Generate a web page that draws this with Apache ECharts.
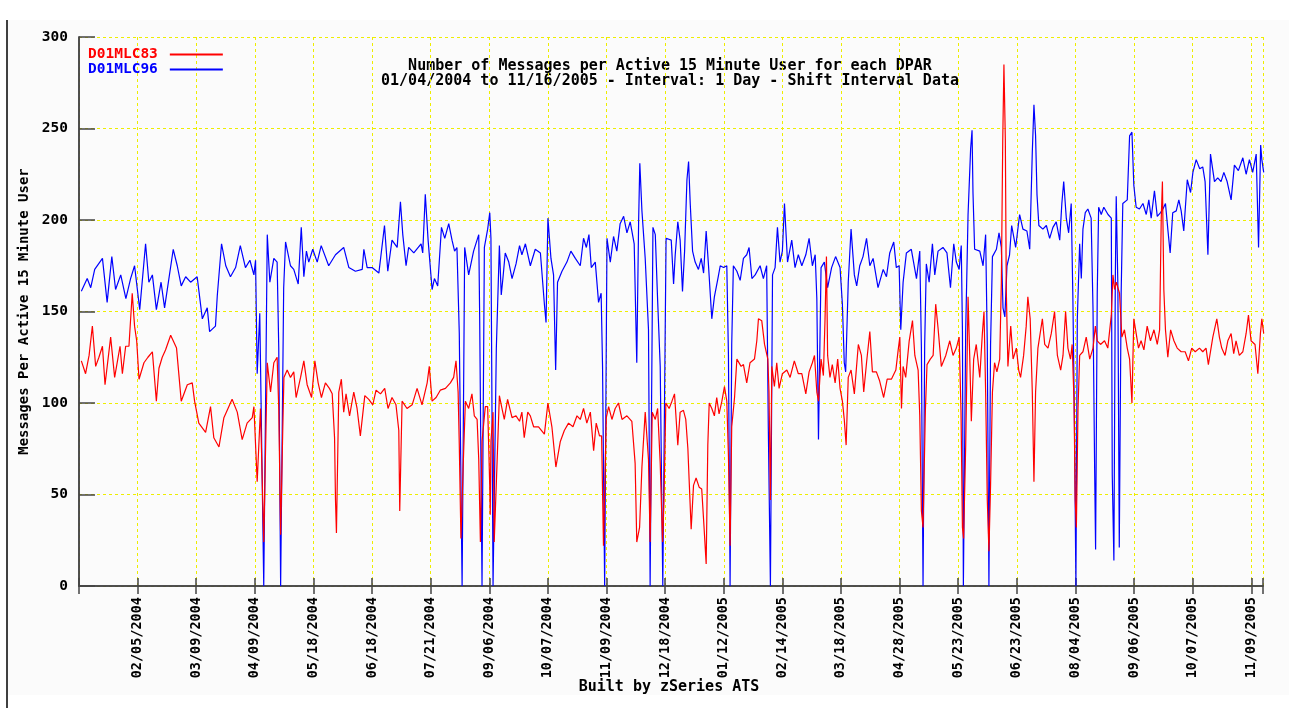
<!DOCTYPE html>
<html>
<head>
<meta charset="utf-8">
<title>Messages per Active 15 Minute User</title>
<script src="https://cdn.jsdelivr.net/npm/echarts@6/dist/echarts.min.js"></script>
<style>
  html, body { margin: 0; padding: 0; background: #fff; }
  #chart { width: 1289px; height: 708px; }
</style>
</head>
<body>
<div id="chart"></div>
<script>
// x = day index (category count from the first day), y = messages per user
const tickLabels = ['02/05/2004', '03/09/2004', '04/09/2004', '05/18/2004', '06/18/2004',
  '07/21/2004', '09/06/2004', '10/07/2004', '11/09/2004', '12/18/2004', '01/12/2005',
  '02/14/2005', '03/18/2005', '04/28/2005', '05/23/2005', '06/23/2005', '08/04/2005',
  '09/06/2005', '10/07/2005', '11/09/2005'];
const yTicks = [0, 50, 100, 150, 200, 250, 300];

// D01MLC83
const redPoints = [
  [1,123],[2.8,116],[4.3,126],[5.7,142],[7.1,120],[8.5,125],[10,131],[11.1,110],[13.5,136],[15.2,114],
  [17.5,131],[18.5,116],[19.9,131],[21.3,131],[22.7,160],[23.7,142],[24.6,134],[25.6,113],[27.7,122],[29.4,125],
  [31.3,128],[33,101],[34.1,119],[35.5,125],[36.9,129],[39.1,137],[41.6,130],[43.6,101],[46.2,110],[48.3,111],
  [49.3,101],[51.1,89],[54,84],[56.1,98],[57.5,81],[59.7,76],[61.8,92],[65.3,102],[67.5,95],[69.6,80],
  [71.7,89],[73.9,92],[74.6,98],[76,57],[77.4,97],[78.8,24],[80.3,122],[81.7,106],[83.1,122],[84.5,125],
  [85.2,97],[86,28],[86.9,85],[87.4,114],[88.8,118],[90.2,114],[91.6,117],[92.6,103],[94.5,114],[95.9,123],
  [97.3,110],[99.2,103],[100.6,123],[102,111],[103.4,103],[105.1,111],[106.8,108],[108,105],[109,81],[109.4,47],
  [109.8,29],[110.8,106],[111.9,113],[112.9,95],[113.9,105],[115.4,93],[117.2,106],[118.6,97],[120,82],[121.9,104],
  [123.6,102],[125.3,99],[126.7,107],[128.6,105],[130.4,108],[131.8,97],[133.5,103],[135.2,99],[136.4,85],[136.8,41],
  [137.8,101],[139.9,97],[142.1,99],[144.2,108],[146.3,99],[148.5,111],[149.4,120],[150.6,101],[152.3,103],[154.1,107],
  [156.3,108],[158.4,111],[159.8,114],[160.8,123],[161.7,106],[162.2,77],[162.9,26],[164.1,75],[164.8,101],[166.2,97],
  [167.6,105],[168.6,93],[169.8,91],[170.5,69],[171.2,24],[171.9,79],[173.3,98],[174.3,98],[175.2,54],[175.4,39],
  [175.7,79],[176.6,95],[177.1,24],[178.3,67],[179.3,104],[180.4,97],[181.4,91],[182.8,102],[184.7,92],[186.4,93],
  [187.9,90],[188.9,95],[189.9,81],[191.4,95],[192.5,93],[193.9,87],[196,87],[198.5,83],[200,100],[201.7,87],
  [203.4,65],[205.3,79],[207,85],[208.8,89],[210.7,87],[212.4,93],[213.8,91],[215.2,97],[216.6,89],[218.1,95],
  [219.5,74],[220.6,89],[222,82],[222.9,82],[223.7,22],[224.9,92],[225.9,98],[227.3,91],[228.7,97],[230.1,100],
  [231.6,91],[233.7,93],[235.8,90],[237.2,67],[237.9,24],[239.1,32],[240.1,65],[241.5,95],[242.9,69],[243.6,24],
  [244.5,95],[245.8,91],[246.8,97],[247.9,67],[248.9,24],[249.5,47],[250.3,100],[251.7,97],[252.9,101],[254,105],
  [254.6,93],[255.4,77],[256.4,95],[257.8,96],[258.8,91],[259.7,75],[260.2,59],[261.1,31],[262.1,55],[263.2,59],
  [264.5,54],[265.6,53],[266.6,32],[267.5,12],[268.2,77],[268.8,100],[269.9,97],[271,93],[272,103],[273,94],
  [274.2,101],[275.3,109],[276.3,101],[277,71],[277.7,22],[278.4,87],[279.6,103],[280.6,124],[282.4,120],[283.4,121],
  [284.8,111],[286.2,122],[288.1,124],[289.1,134],[289.8,146],[291.2,145],[292.4,132],[293.8,124],[294.3,106],[294.9,47],
  [295.5,120],[296.6,109],[297.6,122],[298.6,108],[300,116],[301.9,118],[303.3,114],[305.1,123],[306.8,116],[308.3,116],
  [310,105],[311.4,117],[312.8,122],[313.7,126],[314.7,106],[315.4,101],[316.5,124],[317.5,115],[318.2,146],[318.8,180],
  [319.3,126],[320.3,114],[321.3,121],[322.5,111],[323.6,124],[324.6,108],[325.6,101],[326.4,91],[327.2,77],[328.1,114],
  [329.3,118],[330.7,105],[332.4,132],[333.7,126],[334.7,106],[335.9,122],[337.3,139],[338.4,117],[340.1,117],[341.5,112],
  [343.2,103],[344.7,113],[346.5,113],[348.4,118],[349.4,129],[350.1,136],[350.8,97],[351.5,120],[352.6,114],[354.1,134],
  [355.5,145],[356.5,126],[357.9,118],[358.6,93],[359.3,41],[360,32],[361,96],[361.7,121],[363.1,124],[364.3,126],
  [365.4,154],[366.4,141],[367.8,120],[369.7,126],[371.4,134],[372.8,126],[374.2,130],[375.4,136],[376.2,95],[376.8,32],
  [377.3,26],[378.2,77],[379.2,158],[379.9,126],[380.6,90],[381.6,124],[382.7,132],[384.2,114],[385.3,138],[386,150],
  [386.7,106],[387.4,47],[388.1,19],[388.8,55],[389.6,106],[390.5,122],[391.5,117],[392.7,124],[393.4,166],[394,244],
  [394.5,285],[395.1,244],[395.5,162],[396.2,120],[397.4,142],[398.4,124],[399.8,130],[400.8,118],[401.6,114],[402.9,126],
  [404,142],[404.7,158],[405.7,146],[406.6,106],[407.3,57],[408,106],[409,130],[410.9,146],[411.9,132],[413.3,130],
  [414.7,138],[416.1,150],[417.3,126],[418.7,118],[419.7,126],[420.8,150],[421.8,130],[422.9,124],[423.6,132],[424.4,101],
  [424.9,47],[425.4,32],[426.1,97],[426.8,126],[428.2,128],[429.6,136],[431.1,124],[432.5,130],[433.5,142],[434.3,134],
  [435.7,132],[437.4,134],[438.8,130],[440.3,148],[441,170],[441.7,162],[442.4,166],[443.8,160],[444.8,136],[445.9,140],
  [447.1,130],[448.1,124],[449.1,100],[449.9,146],[450.9,138],[451.9,130],[453,134],[454.2,129],[455.6,142],[457,134],
  [458.5,140],[459.9,132],[460.9,140],[461.6,201],[462.1,221],[462.7,162],[463.4,140],[464.4,125],[465.6,140],[467,134],
  [468.4,130],[470.1,128],[471.8,128],[473.2,123],[474.6,130],[476.1,128],[477.9,130],[479.3,128],[480.7,130],[481.7,121],
  [483.6,136],[485.3,146],[486.4,136],[487.4,130],[488.8,126],[490,134],[491.4,138],[492.5,127],[493.5,134],[494.9,126],
  [496.4,128],[497.8,138],[498.8,148],[499.9,134],[501.6,132],[502.8,116],[503.9,138],[504.5,146],[505.3,138]
];

// D01MLC96
const bluePoints = [
  [1,161],[3.5,168],[5,163],[6.7,173],[10,179],[12,155],[14,180],[15.6,162],[17.8,170],[20,157],
  [22,168],[23.7,175],[25.9,151],[28.4,187],[29.8,166],[31.3,170],[33,151],[35,166],[36.5,152],[40.2,184],
  [41.9,175],[43.6,164],[45.5,169],[47.6,166],[50.4,169],[52.6,146],[54.7,152],[55.7,139],[58.2,142],[59,159],
  [60.8,187],[62.6,175],[64.6,169],[66.8,174],[68.8,186],[71,174],[72.9,178],[74.6,170],[75.3,178],[76,116],
  [77.1,149],[78.8,0],[80.3,192],[81.4,166],[83.1,179],[84.5,177],[85.2,130],[86,0],[87.3,163],[88.1,188],
  [90.2,175],[91.6,173],[93.5,165],[94.8,196],[95.9,169],[97,183],[98,177],[99.7,184],[101.6,177],[103.3,186],
  [106.5,175],[109.4,181],[112.9,185],[115.1,174],[117.9,172],[120.8,173],[121.5,184],[122.9,174],[125,174],[127.9,171],
  [130.3,197],[131.7,172],[133.5,189],[135.7,185],[137.1,210],[138.1,192],[139.5,175],[140.6,185],[142.8,182],[145.9,187],
  [146.6,182],[147.7,214],[148.9,189],[150.6,162],[151.6,168],[153,164],[154.6,196],[156,190],[157.7,198],[159.1,189],
  [160.2,183],[161.2,185],[162.2,138],[163.4,0],[164.5,185],[166.2,170],[168.3,183],[170.5,192],[170.9,146],[171.9,0],
  [172.9,185],[174.3,195],[175.2,204],[175.7,190],[176.6,0],[178,130],[179.3,186],[180.1,159],[180.8,168],[181.8,182],
  [183.3,177],[184.7,168],[186.4,176],[187.9,186],[188.9,181],[190.4,187],[192.5,175],[194.6,184],[196.8,182],[198.5,154],
  [199.2,144],[200,201],[201.3,179],[202.4,170],[203.3,118],[204.1,166],[206,172],[208.1,177],[209.8,183],[211.7,179],
  [213.8,175],[215.2,190],[216.4,185],[217.5,192],[218.5,174],[220.2,177],[221.6,155],[222.7,160],[223.3,120],[224.2,0],
  [225.2,190],[226.6,177],[228,191],[229.4,183],[230.8,198],[232.3,202],[233.7,193],[235.1,199],[236.8,187],[237.9,122],
  [238.7,200],[239.2,231],[240.1,205],[241.5,179],[242.9,140],[243.6,0],[244.8,196],[245.8,192],[246.8,156],[247.9,120],
  [249,0],[250.4,190],[252.6,189],[253.6,165],[254.3,181],[255.4,199],[256.4,189],[257.4,161],[258.3,183],[259.3,222],
  [260,232],[260.7,209],[261.7,183],[262.8,177],[264.2,173],[265.4,179],[266.4,171],[267.5,194],[268.5,175],[269.9,146],
  [271,158],[272.5,168],[273.5,175],[274.9,174],[276.3,175],[277,126],[277.7,0],[278.4,132],[279.1,175],[280.6,172],
  [282,167],[283.4,179],[284.8,181],[285.8,185],[287,168],[288.4,170],[290.5,175],[291.9,168],[293.3,175],[294,87],
  [294.9,0],[295.8,170],[296.9,174],[297.9,196],[299,177],[300,183],[300.9,209],[302.2,177],[304,189],[305.4,174],
  [306.8,181],[308.3,175],[310,181],[311.4,190],[312.8,175],[314,181],[314.7,157],[315.4,80],[316.5,174],[317.9,177],
  [319.3,163],[321,174],[322.7,180],[324.6,174],[325.6,154],[326.4,122],[327,117],[328.1,166],[329.3,195],[330.7,170],
  [331.7,164],[333,175],[334.4,180],[335.9,190],[337.3,175],[338.7,179],[340.8,163],[343,173],[344.4,169],[345.8,182],
  [347.5,188],[348.6,174],[349.8,175],[350.5,140],[351.5,166],[352.9,182],[355,184],[357.2,168],[358.6,183],[359.3,130],
  [360,0],[360.7,132],[361.4,176],[362.6,166],[364,187],[365,170],[366.4,183],[368.5,185],[370.2,182],[371.7,163],
  [373.1,187],[374.2,177],[375.4,173],[376.3,186],[376.8,140],[377.2,0],[378.2,140],[379.2,203],[380.3,239],[380.9,249],
  [381.3,215],[382,184],[384.2,183],[385.6,175],[386.7,192],[387.4,132],[388.1,0],[388.8,132],[389.6,180],[391.3,184],
  [392.4,193],[393.4,185],[394.1,152],[394.9,147],[395.8,175],[396.9,181],[397.8,197],[399.5,185],[401.2,203],[402.6,195],
  [404.3,194],[405.5,184],[406.6,237],[407.3,263],[408,246],[408.6,214],[409.4,197],[411.1,195],[412.6,197],[414,190],
  [415.4,196],[416.8,199],[418.3,189],[419.2,209],[420,221],[421.1,201],[422.1,193],[423.2,209],[423.9,158],[424.6,87],
  [425.2,0],[425.8,146],[426.8,187],[427.5,168],[428.2,195],[429.2,204],[430.3,206],[431.7,201],[432.5,151],[433.2,63],
  [433.6,20],[434.3,160],[434.9,207],[436,203],[437.1,207],[438.9,203],[440.3,201],[440.7,61],[441.4,14],[442,166],
  [442.4,213],[443.1,164],[443.7,21],[444.5,160],[445.2,209],[447.1,211],[448.1,246],[449.1,248],[449.9,219],[450.9,207],
  [452.3,206],[453.8,209],[455.2,203],[456.3,211],[457.3,201],[458.7,216],[459.9,202],[461.3,204],[462.3,206],[463.4,209],
  [464.4,195],[465.4,182],[466.5,204],[468,205],[469.1,211],[470.1,205],[471.2,194],[472.7,222],[474.1,215],[475.1,226],
  [476.5,233],[478,228],[479.3,229],[480.3,221],[481.5,181],[482.6,236],[484.3,221],[485.7,223],[487.1,221],[488.3,226],
  [489.7,221],[491.4,211],[492.8,230],[494.5,227],[496.4,234],[497.8,225],[499.2,233],[500.6,226],[502.1,236],[503.1,185],
  [504,241],[504.5,233],[505.3,226]
];

const MONO = '"DejaVu Sans Mono", "Liberation Mono", monospace';
const FRAME = '#444';
const GRID_DASH = '#eeee00';

const chart = echarts.init(document.getElementById('chart'));

const option = {
  animation: false,
  backgroundColor: '#fbfbfb',
  grid: { left: 79, top: 37, right: 26, bottom: 122, containLabel: false },
  legend: {
    orient: 'vertical',
    left: 83,
    top: 42,
    align: 'right',
    icon: 'rect',
    itemWidth: 53,
    itemHeight: 2,
    itemGap: 0,
    textStyle: { fontFamily: MONO, fontWeight: 'bold', fontSize: 14.5, lineHeight: 15, padding: [0, 7, 0, 0] },
    data: [
      { name: 'D01MLC83', textStyle: { color: '#ff0000' } },
      { name: 'D01MLC96', textStyle: { color: '#0000ff' } }
    ]
  },
  xAxis: [
    {
      type: 'value',
      min: 0,
      max: 505,
      interval: 25,
      position: 'bottom',
      axisLine: { show: true, lineStyle: { color: FRAME, width: 1.5 } },
      axisTick: { show: true, inside: true, length: 8, lineStyle: { color: FRAME, width: 1.5 } },
      axisLabel: {
        rotate: 90,
        margin: 11,
        color: '#000',
        fontFamily: MONO,
        fontWeight: 'bold',
        fontSize: 13.5,
        formatter: function (v) {
          if (v <= 0 || v % 25 !== 0) return '';
          return tickLabels[v / 25 - 1] || '';
        }
      },
      splitLine: { show: true, lineStyle: { color: GRID_DASH, type: [3, 3], width: 1 } }
    },
    {
      type: 'value',
      min: 0,
      max: 505,
      interval: 25,
      position: 'top',
      axisLine: { show: true, lineStyle: { color: FRAME, width: 1.5 } },
      axisTick: { show: true, inside: true, length: 8, lineStyle: { color: FRAME, width: 1.5 } },
      axisLabel: { show: false },
      splitLine: { show: false }
    }
  ],
  yAxis: [
    {
      type: 'value',
      min: yTicks[0],
      max: yTicks[yTicks.length - 1],
      interval: 50,
      name: 'Messages Per Active 15 Minute User',
      nameLocation: 'middle',
      nameRotate: 90,
      nameGap: 44,
      nameTextStyle: { fontFamily: MONO, fontWeight: 'bold', fontSize: 14, color: '#000' },
      axisLine: { show: true, lineStyle: { color: FRAME, width: 1.5 } },
      axisTick: { show: true, inside: true, length: 16, lineStyle: { color: FRAME, width: 1.5 } },
      axisLabel: { margin: 11, color: '#000', fontFamily: MONO, fontWeight: 'bold', fontSize: 14.5 },
      splitLine: { show: true, lineStyle: { color: GRID_DASH, type: [3, 3], width: 1 } }
    },
    {
      type: 'value',
      position: 'right',
      min: 0,
      max: 300,
      interval: 50,
      axisLine: { show: true, lineStyle: { color: FRAME, width: 1.5 } },
      axisTick: { show: false },
      axisLabel: { show: false },
      splitLine: { show: false }
    }
  ],
  series: [
    {
      name: 'D01MLC83',
      type: 'line',
      data: redPoints,
      color: '#ff0000',
      showSymbol: false,
      symbol: 'none',
      lineStyle: { width: 1.2, color: '#ff0000' },
      z: 4
    },
    {
      name: 'D01MLC96',
      type: 'line',
      data: bluePoints,
      color: '#0000ff',
      showSymbol: false,
      symbol: 'none',
      lineStyle: { width: 1.2, color: '#0000ff' },
      z: 3
    }
  ],
  graphic: [
    // white page margins around the plot canvas
    { type: 'rect', shape: { x: 0, y: 0, width: 1289, height: 20 }, style: { fill: '#fff' }, silent: true },
    { type: 'rect', shape: { x: 0, y: 695, width: 1289, height: 13 }, style: { fill: '#fff' }, silent: true },
    { type: 'rect', shape: { x: 0, y: 0, width: 7, height: 708 }, style: { fill: '#fff' }, silent: true },
    { type: 'line', shape: { x1: 7, y1: 20, x2: 7, y2: 708 }, style: { stroke: '#000', lineWidth: 1.5 }, silent: true },
    {
      type: 'text', x: 670, y: 66, silent: true,
      style: { text: 'Number of Messages per Active 15 Minute User for each DPAR', align: 'center', verticalAlign: 'middle',
        font: 'bold 15px ' + MONO, fill: '#000' }
    },
    {
      type: 'text', x: 670, y: 81, silent: true,
      style: { text: '01/04/2004 to 11/16/2005 - Interval: 1 Day - Shift Interval Data', align: 'center', verticalAlign: 'middle',
        font: 'bold 15px ' + MONO, fill: '#000' }
    },
    {
      type: 'text', x: 669, y: 687, silent: true,
      style: { text: 'Built by zSeries ATS', align: 'center', verticalAlign: 'middle',
        font: 'bold 15px ' + MONO, fill: '#000' }
    }
  ]
};

chart.setOption(option);
</script>
</body>
</html>
